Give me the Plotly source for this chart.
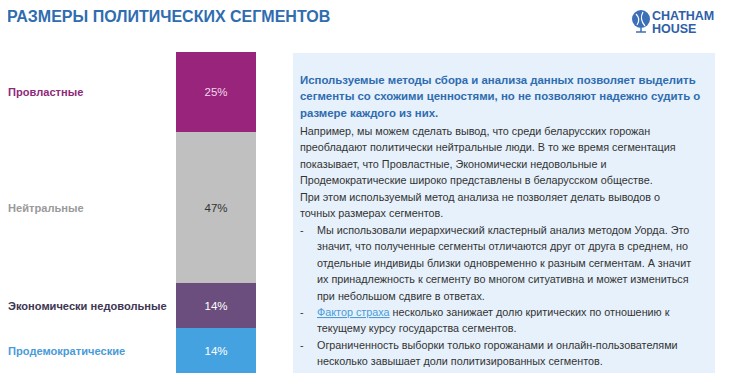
import plotly.graph_objects as go

# Data
segments = ["Провластные", "Нейтральные", "Экономически недовольные", "Продемократические"]
shares = [25, 47, 14, 14]
bar_colors = ["#98257B", "#C0C0C0", "#6B4D7E", "#45A2E0"]
label_colors = ["#8E2A78", "#9A9A9A", "#3E3652", "#4A9BD8"]
value_text_colors = ["#F3D6EE", "#333333", "#FFFFFF", "#FFFFFF"]

title_text = "РАЗМЕРЫ ПОЛИТИЧЕСКИХ СЕГМЕНТОВ"
logo_lines = ["CHATHAM", "HOUSE"]
heading_lines = [
    "Используемые методы сбора и анализа данных позволяет выделить",
    "сегменты со схожими ценностями, но не позволяют надежно судить о",
    "размере каждого из них.",
]
para1_lines = [
    "Например, мы можем сделать вывод, что среди беларусских горожан",
    "преобладают политически нейтральные люди. В то же время сегментация",
    "показывает, что Провластные, Экономически недовольные и",
    "Продемократические широко представлены в беларусском обществе.",
]
para2_lines = [
    "При этом используемый метод анализа не позволяет делать выводов о",
    "точных размерах сегментов.",
]
bullet1_lines = [
    "Мы использовали иерархический кластерный анализ методом Уорда. Это",
    "значит, что полученные сегменты отличаются друг от друга в среднем, но",
    "отдельные индивиды близки одновременно к разным сегментам. А значит",
    "их принадлежность к сегменту во многом ситуативна и может измениться",
    "при небольшом сдвиге в ответах.",
]
bullet2_lines = [
    "<span style='color:#4A9BD8'><u>Фактор страха</u></span> несколько занижает долю критических по отношению к",
    "текущему курсу государства сегментов.",
]
bullet3_lines = [
    "Ограниченность выборки только горожанами и онлайн-пользователями",
    "несколько завышает доли политизированных сегментов.",
]

OFF = 8  # page body margin
W, H = 732 - OFF, 384 - OFF
FONT = "Liberation Sans, Arial, sans-serif"

fig = go.Figure()

for name, val, col, tcol in zip(segments, shares, bar_colors, value_text_colors):
    fig.add_trace(go.Bar(
        x=["s"], y=[val], name=name, marker=dict(color=col, line=dict(width=0)),
        text=[f"{val}%"], textposition="inside", insidetextanchor="middle",
        textfont=dict(color=tcol, size=11.5, family=FONT), width=1,
        hoverinfo="skip",
    ))

def px_x(p):
    return (p - OFF) / W

def px_y(p):
    return 1 - (p - OFF) / H

fig.update_layout(
    barmode="stack",
    width=W, height=H,
    margin=dict(l=0, r=0, t=0, b=0),
    paper_bgcolor="white", plot_bgcolor="white",
    showlegend=False,
    xaxis=dict(domain=[px_x(176), px_x(256)], visible=False, range=[-0.5, 0.5]),
    yaxis=dict(domain=[px_y(373), px_y(52)], visible=False, range=[sum(shares), 0]),
    font=dict(family=FONT),
)

annotations = []
cum = 0
for name, val, col in zip(segments, shares, label_colors):
    mid = cum + val / 2
    cum += val
    annotations.append(dict(
        x=px_x(6), xref="paper", y=mid, yref="y", text=f"<b>{name}</b>",
        showarrow=False, xanchor="left", yanchor="middle",
        font=dict(size=11.1, color=col, family=FONT),
    ))

annotations.append(dict(
    x=px_x(5), y=px_y(16), xref="paper", yref="paper", text=f"<b>{title_text}</b>",
    showarrow=False, xanchor="left", yanchor="middle",
    font=dict(size=16, color="#2F6CB0", family=FONT),
))

for txt, yy in zip(logo_lines, (16, 29)):
    annotations.append(dict(
        x=px_x(650), y=px_y(yy), xref="paper", yref="paper", text=f"<b>{txt}</b>",
        showarrow=False, xanchor="left", yanchor="middle",
        font=dict(size=12.5, color="#2F5FA8", family=FONT),
    ))

def add_lines(lines, y0, x0, color="#333333", bold=False, size=10.8, step=16.4):
    for i, ln in enumerate(lines):
        t = f"<b>{ln}</b>" if bold else ln
        annotations.append(dict(
            x=px_x(x0), y=px_y(y0 + i * step), xref="paper", yref="paper", text=t,
            showarrow=False, xanchor="left", yanchor="middle",
            font=dict(size=size, color=color, family=FONT),
        ))

add_lines(heading_lines, 80, 298, color="#2F6CB0", bold=True, size=11.4)
add_lines(para1_lines, 131, 298)
add_lines(para2_lines, 197, 298)
add_lines(bullet1_lines, 230, 315)
add_lines(bullet2_lines, 312, 315)
add_lines(bullet3_lines, 345, 315)
for yb in (230, 312, 345):
    annotations.append(dict(
        x=px_x(298), y=px_y(yb), xref="paper", yref="paper", text="-",
        showarrow=False, xanchor="left", yanchor="middle",
        font=dict(size=10.8, color="#333333", family=FONT),
    ))

fig.update_layout(annotations=annotations)

shapes = [
    dict(type="rect", xref="paper", yref="paper",
         x0=px_x(293), x1=px_x(715), y0=px_y(373), y1=px_y(53),
         fillcolor="#E6F1FB", line=dict(width=0), layer="below"),
    dict(type="circle", xref="paper", yref="paper",
         x0=px_x(632), x1=px_x(650), y0=px_y(28), y1=px_y(10),
         fillcolor="#3B6FB8", line=dict(width=0)),
    dict(type="path", xref="paper", yref="paper",
         path=f"M {px_x(636)} {px_y(14)} Q {px_x(641)} {px_y(19)} {px_x(637)} {px_y(25)}",
         line=dict(color="white", width=1.2)),
    dict(type="path", xref="paper", yref="paper",
         path=f"M {px_x(643)} {px_y(12)} Q {px_x(639)} {px_y(19)} {px_x(645)} {px_y(26)}",
         line=dict(color="white", width=1.2)),
    dict(type="line", xref="paper", yref="paper",
         x0=px_x(641), x1=px_x(641), y0=px_y(28), y1=px_y(32),
         line=dict(color="#3B6FB8", width=1.5)),
    dict(type="line", xref="paper", yref="paper",
         x0=px_x(636), x1=px_x(646), y0=px_y(32), y1=px_y(32),
         line=dict(color="#3B6FB8", width=1.5)),
]
fig.update_layout(shapes=shapes)

fig.write_html("out.html")
